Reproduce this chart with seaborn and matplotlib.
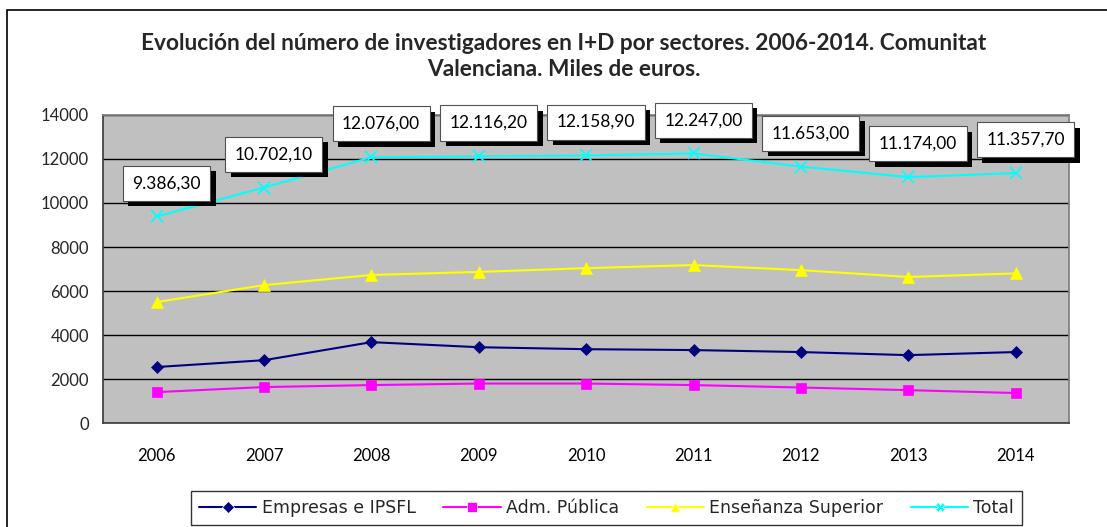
import numpy as np
import pandas as pd
import matplotlib
matplotlib.use("Agg")
import matplotlib.pyplot as plt
import matplotlib.patheffects as pe
import seaborn as sns

# ---------------- DATA ----------------
years = ["2006", "2007", "2008", "2009", "2010", "2011", "2012", "2013", "2014"]
empresas = [2550, 2860, 3680, 3450, 3360, 3320, 3230, 3090, 3230]
adm_publica = [1410, 1640, 1730, 1800, 1800, 1730, 1620, 1500, 1370]
ensenanza = [5500, 6270, 6730, 6870, 7040, 7180, 6950, 6640, 6800]
total = [9386.3, 10702.1, 12076.0, 12116.2, 12158.9, 12247.0, 11653.0, 11174.0, 11357.7]
series_names = ["Empresas e IPSFL", "Adm. Pública", "Enseñanza Superior", "Total"]

colors = ["#000080", "#FF00FF", "#FFFF00", "#00FFFF"]
markers = ["D", "s", "^", "X"]

df = pd.DataFrame({"year": years * 4,
                   "value": empresas + adm_publica + ensenanza + total,
                   "serie": np.repeat(series_names, len(years))})

# ---------------- PLOT ----------------
sns.set_theme(style="white")
plt.rcParams["font.family"] = ["Lato", "DejaVu Sans"]

fig = plt.figure(figsize=(11.07, 5.27), dpi=100)
ax = fig.add_axes([0.093, 0.197, 0.873, 0.585])
ax.set_facecolor("#C0C0C0")

sns.lineplot(data=df, x="year", y="value", hue="serie", style="serie",
             hue_order=series_names, style_order=series_names,
             palette=colors, markers=markers, dashes=False, markersize=6.5,
             markeredgewidth=0.5, linewidth=1.5, ax=ax, sort=False)
for ln, c, m in zip(ax.lines, colors, markers):
    ln.set_markeredgecolor(c)
    if m == "X":
        ln.set_marker("x")
        ln.set_markeredgewidth(1.2)
        ln.set_markersize(8)
    if m == "^":
        ln.set_markersize(8)

ax.set_xlim(-0.5, len(years) - 0.5)
ax.set_ylim(0, 14000)
ax.set_yticks(np.arange(0, 14001, 2000))
ax.yaxis.grid(True, color="black", linewidth=1)
ax.set_axisbelow(True)
ax.set_xlabel("")
ax.set_ylabel("")
ax.set_xticks(np.arange(-0.5, len(years)), minor=True)
ax.tick_params(axis="x", which="major", length=0, pad=18, labelsize=12, colors="black")
ax.tick_params(axis="x", which="minor", length=6, direction="out", color="black", width=1)
ax.tick_params(axis="y", length=6, direction="out", color="black", labelsize=12, pad=4)
for s in ["top", "right"]:
    ax.spines[s].set_color("#808080")
for s in ["left", "bottom"]:
    ax.spines[s].set_color("#404040")

# data labels for Total
for i, v in enumerate(total):
    txt = f"{v:,.2f}".replace(",", "X").replace(".", ",").replace("X", ".")
    a = ax.annotate(txt, (i, v), xytext=(7, 24), textcoords="offset points",
                    ha="center", va="center", fontsize=12.5, color="black",
                    annotation_clip=False,
                    bbox=dict(boxstyle="square,pad=0.55", fc="white", ec="#505050", lw=0.8))
    a.get_bbox_patch().set_path_effects([
        pe.withSimplePatchShadow(offset=(4, -4), shadow_rgbFace="black", alpha=1)])

fig.text(0.509, 0.892, "Evolución del número de investigadores en I+D por sectores. 2006-2014. Comunitat\nValenciana. Miles de euros.",
         ha="center", va="center", fontsize=16.3, fontweight="bold", linespacing=1.3)

leg = ax.legend(loc="upper center", bbox_to_anchor=(0.548, 0.068),
                bbox_transform=fig.transFigure, ncol=4, frameon=True,
                fancybox=False, edgecolor="black",
                prop={"family": "DejaVu Sans", "size": 12.5},
                handlelength=3.3, columnspacing=1.6, handletextpad=0.3,
                borderpad=0.45, borderaxespad=0)
leg.get_frame().set_linewidth(1)

# outer chart border
fig.patches.append(plt.Rectangle((0.0065, -0.1), 1.2, 1.081, transform=fig.transFigure,
                                 fill=False, ec="black", lw=1.2))

fig.savefig("out.png", dpi=100)
